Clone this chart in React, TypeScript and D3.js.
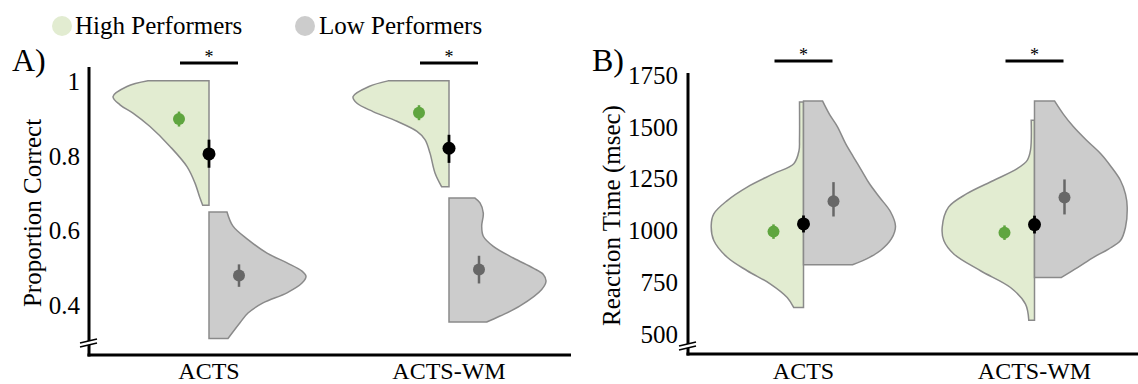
import React from 'react';
import * as d3 from 'd3';

type Pt = [number, number]; // [value, density]

const conditions = ['ACTS', 'ACTS-WM'];
const groupLabels = ['High Performers', 'Low Performers'];

// ---- Panel A: proportion correct ----
const accTicks = [0.4, 0.6, 0.8, 1];

const accHighACTS: Pt[] = [
  [1.0, 0.61], [0.985, 0.82], [0.958, 0.96], [0.936, 0.89], [0.914, 0.76], [0.878, 0.59],
  [0.825, 0.39], [0.771, 0.22], [0.727, 0.14], [0.687, 0.09], [0.668, 0.063],
];
const accLowACTS: Pt[] = [
  [0.65, 0.18], [0.612, 0.24], [0.576, 0.39], [0.54, 0.58], [0.514, 0.78], [0.492, 0.93],
  [0.478, 0.97], [0.46, 0.93], [0.434, 0.78], [0.407, 0.54], [0.38, 0.39], [0.354, 0.31], [0.312, 0.19],
];
const accHighWM: Pt[] = [
  [1.0, 0.61], [0.985, 0.8], [0.958, 0.96], [0.94, 0.92], [0.918, 0.76], [0.892, 0.52],
  [0.865, 0.32], [0.843, 0.24], [0.807, 0.19], [0.754, 0.14], [0.717, 0.073],
];
const accLowWM: Pt[] = [
  [0.687, 0.26], [0.674, 0.31], [0.647, 0.343], [0.612, 0.327], [0.585, 0.343], [0.558, 0.443],
  [0.527, 0.643], [0.5, 0.843], [0.483, 0.943], [0.465, 0.97], [0.443, 0.927], [0.399, 0.71],
  [0.372, 0.51], [0.356, 0.377],
];

const accHighMean = [0.898, 0.915];
const accHighLo = [0.878, 0.895];
const accHighHi = [0.918, 0.935];
const accAllMean = [0.805, 0.82];
const accAllLo = [0.768, 0.781];
const accAllHi = [0.843, 0.856];
const accLowMean = [0.48, 0.496];
const accLowLo = [0.45, 0.459];
const accLowHi = [0.51, 0.533];

// ---- Panel B: reaction time ----
const rtTicks = [500, 750, 1000, 1250, 1500, 1750];

const rtHighACTS: Pt[] = [
  [1620, 0.04], [1440, 0.04], [1385, 0.045], [1322, 0.097], [1274, 0.297], [1209, 0.563],
  [1144, 0.763], [1080, 0.897], [1023, 0.923], [951, 0.897], [870, 0.763], [805, 0.563],
  [741, 0.33], [676, 0.163], [627, 0.097],
];
const rtLowACTS: Pt[] = [
  [1625, 0.19], [1560, 0.26], [1500, 0.34], [1420, 0.42], [1354, 0.5], [1290, 0.58],
  [1225, 0.66], [1160, 0.76], [1090, 0.87], [1020, 0.92], [960, 0.88], [903, 0.77],
  [870, 0.66], [834, 0.49],
];
const rtHighWM: Pt[] = [
  [1532, 0.033], [1387, 0.04], [1338, 0.073], [1298, 0.173], [1241, 0.41], [1177, 0.677],
  [1112, 0.86], [1015, 0.923], [951, 0.907], [886, 0.807], [805, 0.54], [724, 0.24],
  [644, 0.09], [566, 0.057],
];
const rtLowWM: Pt[] = [
  [1625, 0.2], [1560, 0.29], [1500, 0.39], [1435, 0.52], [1371, 0.66], [1305, 0.77],
  [1241, 0.86], [1175, 0.91], [1112, 0.927], [1015, 0.91], [951, 0.86], [910, 0.74],
  [870, 0.59], [820, 0.43], [773, 0.27],
];

const rtHighMean = [994, 989];
const rtHighLo = [959, 954];
const rtHighHi = [1029, 1024];
const rtAllMean = [1031, 1028];
const rtAllLo = [990, 985];
const rtAllHi = [1072, 1071];
const rtLowMean = [1141, 1159];
const rtLowLo = [1067, 1077];
const rtLowHi = [1233, 1246];

// ---- styling ----
const FONT = '"Liberation Serif", "Times New Roman", serif';
const GREEN_FILL = '#e2ecd1';
const GRAY_FILL = '#cccccc';
const OUTLINE = '#8a8a8a';
const GREEN_DOT = '#5fa53f';
const GRAY_DOT = '#676767';

interface PanelProps {
  label: string;
  title: string;
  titleX: number;
  xRange: [number, number];
  yDomain: [number, number];
  yRange: [number, number];
  xAxisY: number;
  xAxisEnd: number;
  ticks: number[];
  tickFmt: (v: number) => string;
  tickX: number;
  labelX: number;
  high: Pt[][];
  low: Pt[][];
  highMean: number[]; highLo: number[]; highHi: number[];
  allMean: number[]; allLo: number[]; allHi: number[];
  lowMean: number[]; lowLo: number[]; lowHi: number[];
  sigY: number;
  breakY: number;
}

function Panel(p: PanelProps) {
  const x = d3.scaleBand<string>().domain(conditions).range(p.xRange);
  const y = d3.scaleLinear().domain(p.yDomain).range(p.yRange);
  const w = d3.scaleLinear().domain([0, 1]).range([0, 100]);
  const axisX = p.xRange[0];
  const dotOffset = 30;

  // half-violin outline: flat side on the category centre, density outward
  const violin = (pts: Pt[], cx: number, side: number) =>
    d3
      .area<Pt>()
      .curve(d3.curveCatmullRom.alpha(0.5))
      .y((d) => y(d[0]))
      .x0(cx)
      .x1((d) => cx + side * w(d[1]))(pts) || '';

  const yTop = p.yRange[1];
  const yBot = p.yRange[0];

  return (
    <g>
      <text x={p.labelX} y={71} fontSize={32} fontFamily={FONT}>{p.label}</text>

      {conditions.map((c, i) => {
        const cx = (x(c) as number) + x.bandwidth() / 2;
        return (
          <g key={c}>
            <path d={violin(p.high[i], cx, -1)} fill={GREEN_FILL} stroke={OUTLINE} strokeWidth={1.5} />
            <path d={violin(p.low[i], cx, 1)} fill={GRAY_FILL} stroke={OUTLINE} strokeWidth={1.5} />

            {/* high performers mean */}
            <line x1={cx - dotOffset} x2={cx - dotOffset} y1={y(p.highLo[i])} y2={y(p.highHi[i])} stroke={GREEN_DOT} strokeWidth={2.5} />
            <circle cx={cx - dotOffset} cy={y(p.highMean[i])} r={6} fill={GREEN_DOT} />

            {/* low performers mean */}
            <line x1={cx + dotOffset} x2={cx + dotOffset} y1={y(p.lowLo[i])} y2={y(p.lowHi[i])} stroke={GRAY_DOT} strokeWidth={2.5} />
            <circle cx={cx + dotOffset} cy={y(p.lowMean[i])} r={6} fill={GRAY_DOT} />

            {/* overall mean */}
            <line x1={cx} x2={cx} y1={y(p.allLo[i])} y2={y(p.allHi[i])} stroke="#000" strokeWidth={2.8} />
            <circle cx={cx} cy={y(p.allMean[i])} r={6.5} fill="#000" />

            {/* significance bracket */}
            <line x1={cx - 29} x2={cx + 29} y1={p.sigY} y2={p.sigY} stroke="#000" strokeWidth={3} />
            <text x={cx} y={p.sigY} textAnchor="middle" fontSize={18} fontFamily={FONT}>*</text>

            <text x={cx} y={379} textAnchor="middle" fontSize={24} fontFamily={FONT}>{c}</text>
          </g>
        );
      })}

      {/* axes */}
      <line x1={axisX} x2={axisX} y1={yTop} y2={p.xAxisY + 1.5} stroke="#000" strokeWidth={3} />
      <line x1={axisX - 1.5} x2={p.xAxisEnd} y1={p.xAxisY} y2={p.xAxisY} stroke="#000" strokeWidth={3} />
      {/* axis break */}
      <polygon
        points={`${axisX - 9},${p.breakY + 2} ${axisX + 8},${p.breakY - 2} ${axisX + 8},${p.breakY + 2} ${axisX - 9},${p.breakY + 6}`}
        fill="#fff"
      />
      <line x1={axisX - 9} x2={axisX + 8} y1={p.breakY + 2} y2={p.breakY - 2} stroke="#000" strokeWidth={1.6} />
      <line x1={axisX - 9} x2={axisX + 8} y1={p.breakY + 6} y2={p.breakY + 2} stroke="#000" strokeWidth={1.6} />

      {p.ticks.map((t) => (
        <text key={t} x={p.tickX} y={y(t)} dy="0.35em" textAnchor="end" fontSize={25} fontFamily={FONT}>
          {p.tickFmt(t)}
        </text>
      ))}
      <text
        transform={`translate(${p.titleX},${(yTop + yBot) / 2 + 2}) rotate(-90)`}
        textAnchor="middle"
        fontSize={25}
        fontFamily={FONT}
      >
        {p.title}
      </text>
    </g>
  );
}

export default function App() {
  return (
    <svg width={1138} height={384} style={{ position: 'absolute', left: 0, top: 0, background: '#fff' }}>
      {/* legend */}
      <circle cx={62} cy={26} r={10} fill={GREEN_FILL} />
      <text x={75} y={34} fontSize={25} fontFamily={FONT}>{groupLabels[0]}</text>
      <circle cx={305} cy={26} r={10} fill={GRAY_FILL} />
      <text x={319} y={34} fontSize={25} fontFamily={FONT}>{groupLabels[1]}</text>

      <Panel
        label="A)"
        title="Proportion Correct"
        titleX={41}
        labelX={12}
        xRange={[89, 569]}
        yDomain={[0.268, 1.037]}
        yRange={[355, 67]}
        xAxisY={355}
        xAxisEnd={571}
        ticks={accTicks}
        tickFmt={(v) => (v === 1 ? '1' : v.toFixed(1))}
        tickX={80}
        high={[accHighACTS, accHighWM]}
        low={[accLowACTS, accLowWM]}
        highMean={accHighMean} highLo={accHighLo} highHi={accHighHi}
        allMean={accAllMean} allLo={accAllLo} allHi={accAllHi}
        lowMean={accLowMean} lowLo={accLowLo} lowHi={accLowHi}
        sigY={63}
        breakY={341}
      />
      <Panel
        label="B)"
        title="Reaction Time (msec)"
        titleX={620}
        labelX={592}
        xRange={[688, 1150]}
        yDomain={[403, 1760]}
        yRange={[354, 73]}
        xAxisY={354}
        xAxisEnd={1138}
        ticks={rtTicks}
        tickFmt={(v) => String(v)}
        tickX={678}
        high={[rtHighACTS, rtHighWM]}
        low={[rtLowACTS, rtLowWM]}
        highMean={rtHighMean} highLo={rtHighLo} highHi={rtHighHi}
        allMean={rtAllMean} allLo={rtAllLo} allHi={rtAllHi}
        lowMean={rtLowMean} lowLo={rtLowLo} lowHi={rtLowHi}
        sigY={61}
        breakY={344}
      />
    </svg>
  );
}
